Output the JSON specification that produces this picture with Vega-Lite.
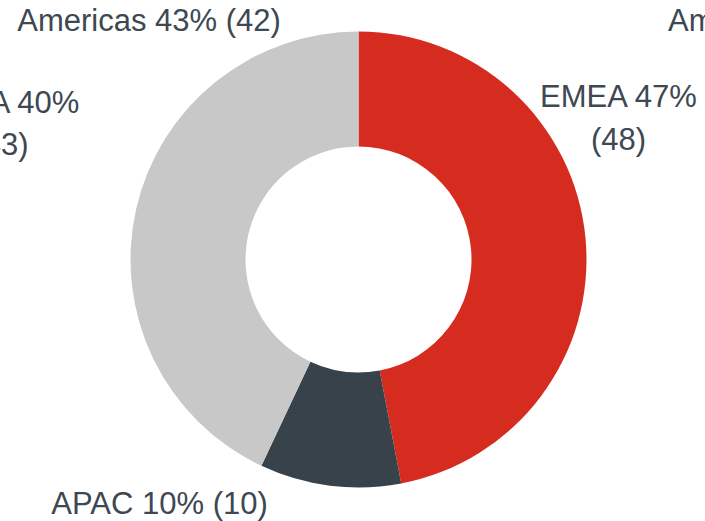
{
  "$schema": "https://vega.github.io/schema/vega-lite/v6.json",
  "width": 693,
  "height": 519,
  "autosize": "none",
  "padding": {"left": 12, "top": 0, "right": 0, "bottom": 2},
  "background": "white",
  "view": {"stroke": null},
  "config": {"text": {"font": "Liberation Sans", "fontSize": 31, "color": "#3D4852", "lineHeight": 42.5}},
  "layer": [
    {
      "data": {"name": "regions", "values": [
        {"region": "EMEA", "share": 47, "count": 48, "order": 1, "label": ["EMEA 47%", "(48)"]},
        {"region": "APAC", "share": 10, "count": 10, "order": 2, "label": "APAC 10% (10)"},
        {"region": "Americas", "share": 43, "count": 42, "order": 3, "label": "Americas 43% (42)"}
      ]},
      "layer": [
        {
          "mark": {"type": "arc", "outerRadius": 228, "innerRadius": 113},
          "encoding": {
            "theta": {"field": "share", "type": "quantitative", "stack": true},
            "order": {"field": "order", "type": "quantitative"},
            "color": {"field": "region", "type": "nominal",
              "scale": {"domain": ["EMEA", "APAC", "Americas"], "range": ["#D62B1F", "#37424A", "#C8C8C8"]},
              "legend": null}
          }
        },
        {
          "transform": [{"filter": "datum.region === 'EMEA'"}],
          "mark": {"type": "text", "dx": 260, "dy": -161.5, "align": "center", "baseline": "middle"},
          "encoding": {"text": {"field": "label"}}
        },
        {
          "transform": [{"filter": "datum.region === 'APAC'"}],
          "mark": {"type": "text", "dx": -199, "dy": 245, "align": "center", "baseline": "middle"},
          "encoding": {"text": {"field": "label"}}
        },
        {
          "transform": [{"filter": "datum.region === 'Americas'"}],
          "mark": {"type": "text", "dx": -209.5, "dy": -238, "align": "center", "baseline": "middle"},
          "encoding": {"text": {"field": "label"}}
        }
      ]
    },
    {
      "data": {"values": [{"label": ["EMEA 40%", "(43)"]}]},
      "mark": {"type": "text", "dx": -357.5, "dy": -156, "align": "center", "baseline": "middle"},
      "encoding": {"text": {"field": "label"}}
    },
    {
      "data": {"values": [{"label": "Americas 45% (44)"}]},
      "mark": {"type": "text", "dx": 309.5, "dy": -238, "align": "left", "baseline": "middle"},
      "encoding": {"text": {"field": "label"}}
    }
  ]
}
